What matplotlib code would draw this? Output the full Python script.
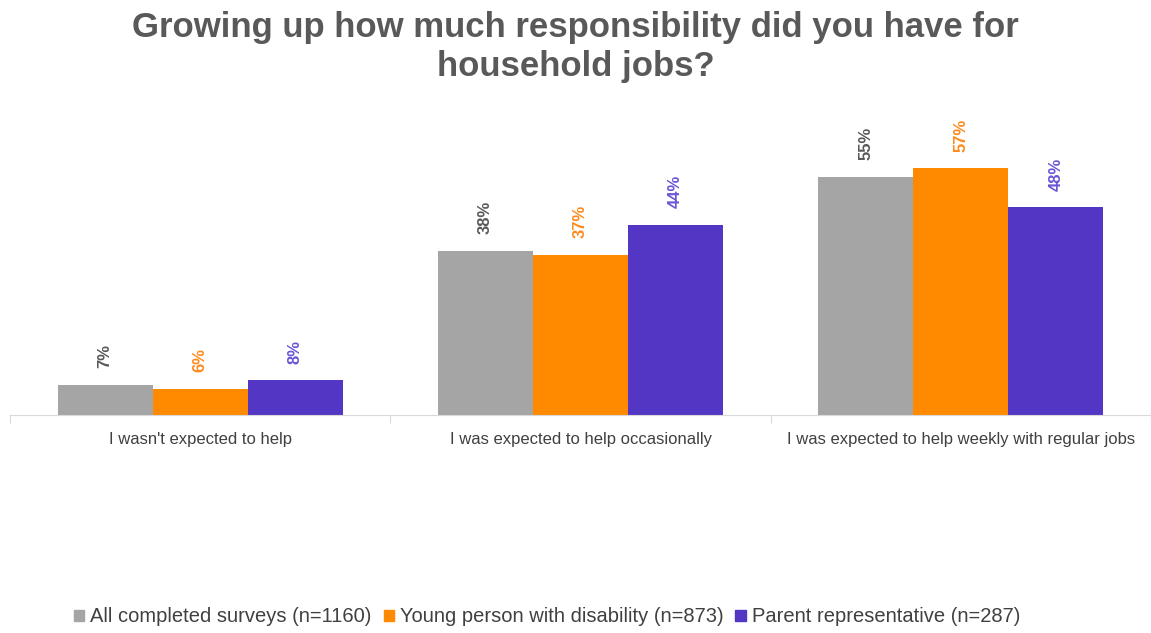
import numpy as np
import matplotlib
matplotlib.use("Agg")
import matplotlib.pyplot as plt
import matplotlib.patches as mpatches

plt.rcParams["font.family"] = ["Liberation Sans", "DejaVu Sans"]

categories = [
    "I wasn't expected to help",
    "I was expected to help occasionally",
    "I was expected to help weekly with regular jobs",
]
series_names = [
    "All completed surveys (n=1160)",
    "Young person with disability (n=873)",
    "Parent representative (n=287)",
]
all_surveys = [7, 38, 55]
young_person = [6, 37, 57]
parent_rep = [8, 44, 48]

bar_colors = ["#A5A5A5", "#FF8A00", "#5336C4"]
label_colors = ["#595959", "#FF8A1A", "#6A55D6"]

fig = plt.figure(figsize=(11.51, 6.33), dpi=100)
ax = fig.add_axes([10 / 1151, 1 - 415 / 633, 1141 / 1151, 303 / 633])

x = np.arange(len(categories))
width = 0.25
for i, (vals, col, lcol, name) in enumerate(
    zip([all_surveys, young_person, parent_rep], bar_colors, label_colors, series_names)
):
    xs = x + (i - 1) * width
    ax.bar(xs, vals, width, color=col, label=name)
    for xx, v in zip(xs, vals):
        ax.annotate(f"{v}%", (xx, v), xytext=(0, 12), textcoords="offset points",
                    rotation=90, ha="center", va="bottom", color=lcol,
                    fontsize=12, fontweight="bold")

ax.set_xlim(-0.5, len(categories) - 0.5)
ax.set_ylim(0, 70)
ax.set_yticks([])
for s in ["top", "right", "left"]:
    ax.spines[s].set_visible(False)
ax.spines["bottom"].set_color("#D9D9D9")

# category boundaries as ticks, labels in between
ax.set_xticks(np.arange(len(categories) + 1) - 0.5)
ax.set_xticklabels([])
ax.tick_params(axis="x", length=6, color="#D9D9D9")
ax.set_xticks(x, minor=True)
ax.set_xticklabels(categories, minor=True)
ax.tick_params(axis="x", which="minor", length=0, pad=12, labelsize=12,
               labelcolor="#404040")

fig.text(0.5, 1 - 47 / 633, "Growing up how much responsibility did you have for\nhousehold jobs?",
         ha="center", va="center", fontsize=25, fontweight="bold", color="#595959",
         linespacing=1.25)

handles = [mpatches.Patch(color=c, label=n) for c, n in zip(bar_colors, series_names)]
fig.legend(handles=handles, loc="center left", bbox_to_anchor=(66 / 1151, 1 - 617 / 633),
           ncol=3, frameon=False, handlelength=0.5, handleheight=0.5, handletextpad=0.3,
           columnspacing=0.6, prop={"size": 14.5}, labelcolor="#404040",
           borderaxespad=0)

fig.savefig("out.png", dpi=100)
